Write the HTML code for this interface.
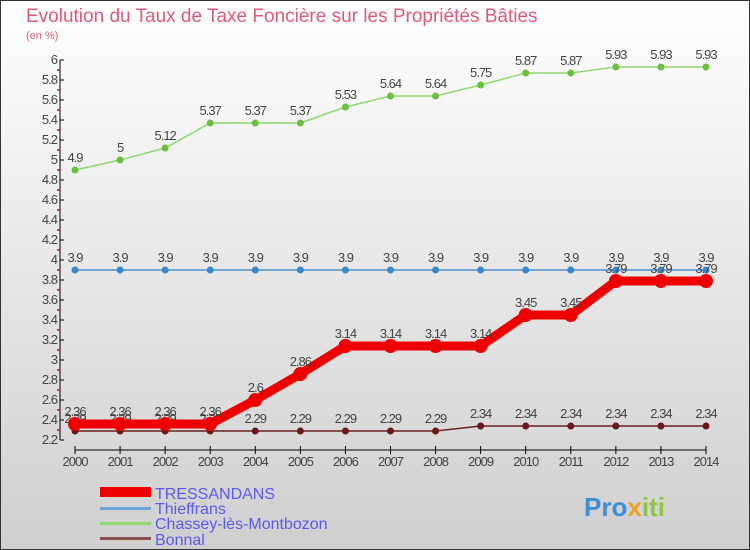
<!DOCTYPE html>
<html><head><meta charset="utf-8"><style>
body{margin:0;}
#wrap{width:750px;height:550px;position:relative;overflow:hidden;font-family:"Liberation Sans",sans-serif;}
svg text{font-family:"Liberation Sans",sans-serif;}
</style></head><body>
<div id="wrap">
<svg id="chart" width="750" height="550" xmlns="http://www.w3.org/2000/svg">
<defs><linearGradient id="bg" x1="0" y1="0" x2="0" y2="1"><stop offset="0" stop-color="#ffffff"/><stop offset="1" stop-color="#cfcfcf"/></linearGradient></defs>
<rect x="0.5" y="0.5" width="749" height="549" fill="url(#bg)" stroke="#333"/>
<text x="26" y="22" font-size="19" fill="#e05a7a">Evolution du Taux de Taxe Foncière sur les Propriétés Bâties</text>
<text x="26" y="39" font-size="11" fill="#e05a7a">(en %)</text>
<g id="axes"></g>
<g id="series"></g>
<g id="legend">
<rect x="100" y="487" width="51" height="10" fill="#ee0000"/>
<text x="155" y="499" font-size="16" fill="#5a5af0">TRESSANDANS</text>
<rect x="100" y="507" width="51" height="3" fill="#6aa8d8"/>
<text x="155" y="514" font-size="16" fill="#5a5af0">Thieffrans</text>
<rect x="100" y="522" width="51" height="3" fill="#90d870"/>
<text x="155" y="529" font-size="16" fill="#5a5af0">Chassey-lès-Montbozon</text>
<rect x="100" y="537" width="51" height="3" fill="#8a5050"/>
<text x="155" y="545" font-size="16" fill="#5a5af0">Bonnal</text>
</g>
<text x="584" y="516" font-size="26" font-weight="bold" fill="#3a8fd8">Pro<tspan fill="#f0a020">x</tspan><tspan fill="#8cc63f">iti</tspan></text>
</svg>
</div>
<script>
const years=[2000,2001,2002,2003,2004,2005,2006,2007,2008,2009,2010,2011,2012,2013,2014];
const yTicks=[2.2,2.4,2.6,2.8,3,3.2,3.4,3.6,3.8,4,4.2,4.4,4.6,4.8,5,5.2,5.4,5.6,5.8,6];
const tressandans=[2.36,2.36,2.36,2.36,2.6,2.86,3.14,3.14,3.14,3.14,3.45,3.45,3.79,3.79,3.79];
const thieffrans=[3.9,3.9,3.9,3.9,3.9,3.9,3.9,3.9,3.9,3.9,3.9,3.9,3.9,3.9,3.9];
const chassey=[4.9,5,5.12,5.37,5.37,5.37,5.53,5.64,5.64,5.75,5.87,5.87,5.93,5.93,5.93];
const bonnal=[2.29,2.29,2.29,2.29,2.29,2.29,2.29,2.29,2.29,2.34,2.34,2.34,2.34,2.34,2.34];
const NS="http://www.w3.org/2000/svg";
function X(i){return 75+i*(706-75)/(years.length-1);}
function Y(v){return 60+(6-v)*100;}
function mk(tag,attrs,parent){const e=document.createElementNS(NS,tag);for(const k in attrs)e.setAttribute(k,attrs[k]);parent.appendChild(e);return e;}
const axes=document.getElementById('axes');
let l=mk('line',{x1:60,y1:Y(6),x2:60,y2:Y(2.2),stroke:'#000'},axes);


yTicks.forEach((v,k)=>{
 let t=mk('line',{x1:60,y1:Y(v),x2:64,y2:Y(v),stroke:'#000'},axes);
 
 
 if(k>0){
 let m=mk('line',{x1:57,y1:Y(v)+10,x2:60,y2:Y(v)+10,stroke:'#e00','stroke-width':1.5},axes);
 
 
 }
 let tx=mk('text',{x:57,y:Y(v)+4,'font-size':13,'text-anchor':'end',fill:'#444','letter-spacing':'-1'},axes);
 tx.textContent=String(v);
 
 
});
let xa=mk('line',{x1:X(0),y1:450,x2:X(years.length-1),y2:450,stroke:'#000'},axes);


years.forEach((yr,i)=>{
 let t=mk('line',{x1:X(i),y1:446,x2:X(i),y2:454,stroke:'#000'},axes);
 
 
 let tx=mk('text',{x:X(i),y:466,'font-size':13,'text-anchor':'middle',fill:'#444','letter-spacing':'-1'},axes);
 tx.textContent=String(yr);
 
 
});
const sg=document.getElementById('series');
function series(name,data,color,dot,w,r){
 const g=mk('g',{},sg);
 
 
 const p=mk('polyline',{points:data.map((v,i)=>X(i)+','+Y(v)).join(' '),fill:'none',stroke:color,'stroke-width':w},g);
 
 
 data.forEach((v,i)=>{
  const c=mk('circle',{cx:X(i),cy:Y(v),r:r,fill:dot},g);
  
  
  const t=mk('text',{x:X(i),y:Y(v)-8,'font-size':13,'text-anchor':'middle',fill:'#444','letter-spacing':'-1'},g);
  t.textContent=String(v);
  
  
 });
}
series('chassey',chassey,'#90d870','#6cc040',1.5,3.5);
series('thieffrans',thieffrans,'#4a90d0','#3a88cc',1.5,3.5);
series('bonnal',bonnal,'#6a2020','#6a1818',1.5,3.5);
series('tressandans',tressandans,'#ee0000','#ee0000',9,7);
</script>
</body></html>
